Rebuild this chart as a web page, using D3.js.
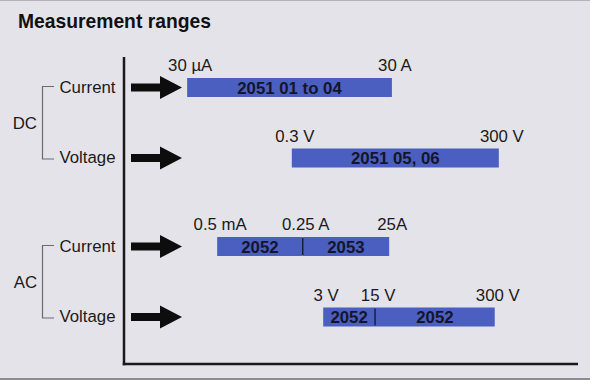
<!DOCTYPE html>
<html>
<head>
<meta charset="utf-8">
<script src="https://cdn.jsdelivr.net/npm/d3@7"></script>
<style>
  html, body { margin: 0; padding: 0; background: #e5e3ea; }
  svg { display: block; font-family: "Liberation Sans", Arial, Helvetica, sans-serif; }
</style>
</head>
<body>
<svg id="chart" width="590" height="380"></svg>
<script>
// ---- data ----
const title = "Measurement ranges";
const groups = ["DC", "AC"];
const types = ["Current", "Voltage"];
const rowGroup = ["DC", "DC", "AC", "AC"];
const rowType = ["Current", "Voltage", "Current", "Voltage"];
// schematic range positions (0..100 along the range axis)
const segStart = [[14.1], [37.1], [20.7, 39.5], [44.0, 55.4]];
const segEnd = [[59.1], [82.6], [39.5, 58.5], [55.4, 81.7]];
const segLabels = [["2051 01 to 04"], ["2051 05, 06"], ["2052", "2053"], ["2052", "2052"]];
const boundaryLabels = [["30 µA", "30 A"], ["0.3 V", "300 V"], ["0.5 mA", "0.25 A", "25A"], ["3 V", "15 V", "300 V"]];

// ---- layout ----
const svg = d3.select("#chart");
const W = 590, H = 380;
const axisX = 124, axisTop = 57, axisY = 364, axisRight = 578;

const x = d3.scaleLinear().domain([0, 100]).range([123, 578]);
const yGroup = d3.scaleBand().domain(groups).range([43.25, 361.25]);
const yType = d3.scalePoint().domain(types).range([44.25, 114.75]);
const rowY = i => yGroup(rowGroup[i]) + yType(rowType[i]);
const barH = 19;

const blue = "#4a5fc0";
const fs = 16.8;

// frame lines
svg.append("rect").attr("x", 0).attr("y", 0).attr("width", W).attr("height", 1).attr("fill", "#b4b3bb");
svg.append("rect").attr("x", 0).attr("y", 378).attr("width", W).attr("height", 2).attr("fill", "#8d8c94");

// title
svg.append("text").attr("x", 18).attr("y", 28)
  .attr("font-size", 19.3).attr("font-weight", "bold").attr("fill", "#111")
  .text(title);

// axes lines
svg.append("line").attr("x1", axisX).attr("x2", axisX).attr("y1", axisTop).attr("y2", axisY + 1.25)
  .attr("stroke", "#1a1a1a").attr("stroke-width", 2.5);
svg.append("line").attr("x1", axisX - 1.25).attr("x2", axisRight).attr("y1", axisY).attr("y2", axisY)
  .attr("stroke", "#1a1a1a").attr("stroke-width", 2.5);

// group brackets and labels
groups.forEach(g => {
  const y1 = yGroup(g) + yType(types[0]);
  const y2 = yGroup(g) + yType(types[types.length - 1]);
  svg.append("path")
    .attr("d", `M54,${y1 - 1}H42.5V${y2 + 1}H54`)
    .attr("fill", "none").attr("stroke", "#6a6a70").attr("stroke-width", 1.2);
  svg.append("text").attr("x", 37).attr("y", (y1 + y2) / 2 + 6)
    .attr("text-anchor", "end").attr("font-size", fs).attr("fill", "#1a1a1a")
    .text(g);
});

// rows
rowType.forEach((t, i) => {
  const cy = rowY(i);
  // type label
  svg.append("text").attr("x", 59.5).attr("y", cy + 5)
    .attr("font-size", fs).attr("fill", "#1a1a1a").text(t);
  // arrow
  svg.append("path")
    .attr("d", `M131,${cy - 4}H160V${cy - 11.5}L182,${cy}L160,${cy + 11.5}V${cy + 4}H131Z`)
    .attr("fill", "#0d0d0d");
  // segments
  const g = svg.append("g");
  segStart[i].forEach((s, j) => {
    const e = segEnd[i][j];
    g.append("rect")
      .attr("x", x(s)).attr("y", cy - barH / 2)
      .attr("width", x(e) - x(s)).attr("height", barH)
      .attr("fill", blue);
  });
  segStart[i].forEach((s, j) => {
    const e = segEnd[i][j];
    g.append("text")
      .attr("x", (x(s) + x(e)) / 2).attr("y", cy + 6)
      .attr("text-anchor", "middle").attr("font-size", 16.8).attr("font-weight", "bold")
      .attr("fill", "#15152a").text(segLabels[i][j]);
    if (j > 0) {
      g.append("line").attr("x1", x(s)).attr("x2", x(s))
        .attr("y1", cy - barH / 2 + 1).attr("y2", cy + barH / 2 - 1)
        .attr("stroke", "#1c1c3c").attr("stroke-width", 1.5);
    }
  });
  // boundary labels
  const bounds = segStart[i].concat([segEnd[i][segEnd[i].length - 1]]);
  bounds.forEach((b, k) => {
    svg.append("text")
      .attr("x", x(b) + 3).attr("y", cy - barH / 2 - 7)
      .attr("text-anchor", "middle").attr("font-size", fs).attr("fill", "#1a1a1a")
      .text(boundaryLabels[i][k]);
  });
});
</script>
</body>
</html>
